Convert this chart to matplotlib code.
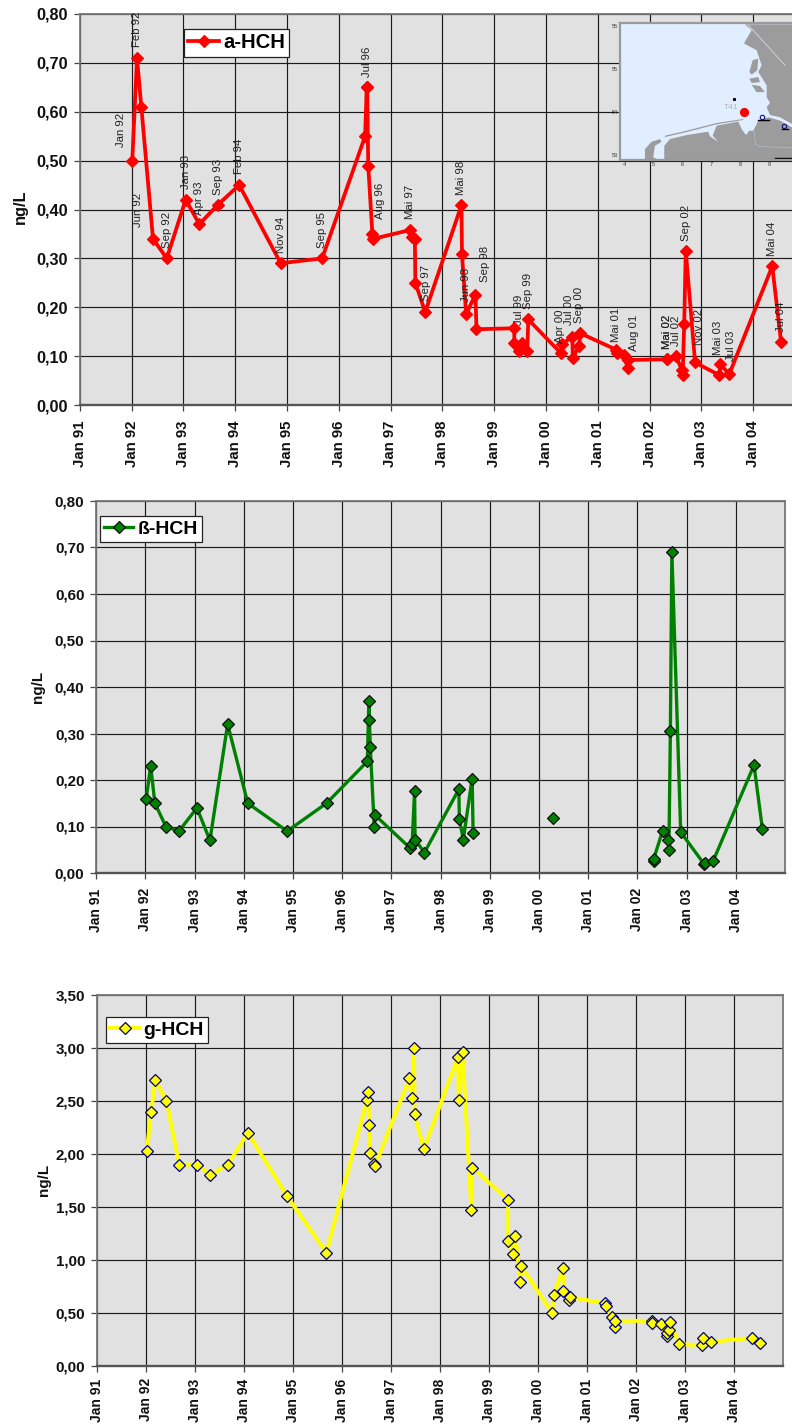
# plot.py
import numpy as np
import matplotlib
matplotlib.use("Agg")
import matplotlib.pyplot as plt
from matplotlib.patches import Polygon

plt.rcParams['font.family'] = ['Liberation Sans', 'DejaVu Sans']

FIG_W, FIG_H = 792, 1425

# sampling dates as decimal years, same for all three series
dates = [1992.015, 1992.106, 1992.19, 1992.415, 1992.68, 1993.046, 1993.31, 1993.67, 1994.08, 1994.88,
         1995.68, 1996.51, 1996.54, 1996.55, 1996.57, 1996.65, 1996.67, 1997.376, 1997.42, 1997.47,
         1997.48, 1997.67, 1998.37, 1998.38, 1998.46, 1998.64, 1998.66, 1999.39, 1999.39, 1999.48,
         1999.54, 1999.64, 1999.66, 2000.29, 2000.32, 2000.51, 2000.52, 2000.64, 2000.66, 2001.36,
         2001.38, 2001.51, 2001.58, 2001.58, 2002.33, 2002.33, 2002.51, 2002.63, 2002.64, 2002.67,
         2002.70, 2002.88, 2003.35, 2003.37, 2003.54, 2004.37, 2004.54]

a_hch = [0.50, 0.71, 0.61, 0.34, 0.30, 0.42, 0.37, 0.41, 0.45, 0.29,
         0.30, 0.55, 0.65, 0.65, 0.49, 0.35, 0.34, 0.358, 0.344, 0.339,
         0.25, 0.19, 0.409, 0.308, 0.186, 0.226, 0.155, 0.157, 0.127, 0.11,
         0.127, 0.111, 0.175, 0.106, 0.125, 0.14, 0.097, 0.12, 0.147, 0.113,
         0.107, 0.102, 0.075, 0.092, 0.0935, 0.0935, 0.10, 0.071, 0.061, 0.166,
         0.316, 0.087, 0.061, 0.083, 0.063, 0.284, 0.129]

b_hch = [0.16, 0.23, 0.15, 0.10, 0.09, 0.14, 0.07, 0.32, 0.15, 0.09,
         0.15, 0.24, 0.37, 0.33, 0.27, 0.10, 0.124, 0.054, 0.062, 0.177,
         0.072, 0.044, 0.18, 0.116, 0.072, 0.203, 0.087, np.nan, np.nan, np.nan,
         np.nan, np.nan, np.nan, 0.119, np.nan, np.nan, np.nan, np.nan, np.nan, np.nan,
         np.nan, np.nan, np.nan, np.nan, 0.025, 0.03, 0.09, 0.07, 0.05, 0.305,
         0.69, 0.088, 0.02, 0.021, 0.026, 0.232, 0.095]

g_hch = [2.03, 2.40, 2.70, 2.50, 1.90, 1.90, 1.80, 1.90, 2.20, 1.60,
         1.07, 2.51, 2.585, 2.273, 2.006, 1.91, 1.885, 2.714, 2.532, 3.00,
         2.373, 2.047, 2.917, 2.51, 2.964, 1.47, 1.87, 1.569, 1.177, 1.056,
         1.229, 0.79, 0.94, 0.50, 0.67, 0.92, 0.71, 0.62, 0.65, 0.59,
         0.57, 0.459, 0.371, 0.427, 0.425, 0.41, 0.393, 0.28, 0.31, 0.34,
         0.412, 0.207, 0.195, 0.264, 0.229, 0.264, 0.22]

year_ticks = list(range(1991, 2005))
year_labels = ["Jan %02d" % (y % 100) for y in year_ticks]

# data labels of the first chart: text and index of the point
label_texts = ["Jan 92", "Feb 92", "Jun 92", "Sep 92", "Jan 93", "Apr 93", "Sep 93", "Feb 94", "Nov 94",
               "Sep 95", "Jul 96", "Aug 96", "Mai 97", "Sep 97", "Mai 98", "Jun 98", "Sep 98", "Jul 99",
               "Sep 99", "Apr 00", "Jul 00", "Sep 00", "Mai 01", "Aug 01", "Mai 02", "Mai 02", "Jul 02",
               "Sep 02", "Nov 02", "Mai 03", "Jul 03", "Mai 04", "Jul 04"]
label_idx = [0, 1, 3, 4, 5, 6, 7, 8, 9, 10, 12, 15, 17, 21, 22, 24, 25, 27,
             32, 33, 35, 38, 39, 43, 44, 45, 46, 50, 51, 53, 54, 55, 56]

# label shift from the point in pixels
label_dx = [-11, 0, -15, 0, 0, 0, 0, 0, 0, 0, 0, 8, 0, 1, 0, 0, 10, 5,
            0, -1, -3, -1, 0, 6, 0, 0, 0, 0, 4, -2, 2, 0, 0]
label_dy = [14, 11, 12, 10, 11, 9, 10, 11, 10, 10, 10, 15, 11, 11, 10, 12, 13, 3,
            10, 10, 12, 10, 8, 9, 10, 10, 10, 10, 17, 9, 13, 10, 10]

# coastline of the small map, crop pixels of the map picture
south_land = [(163, 432), (163, 390), (180, 370), (230, 358), (295, 348), (300, 362), (325, 378), (308, 360),
              (320, 330), (385, 318), (395, 340), (408, 358), (418, 345), (430, 345), (445, 315), (475, 305),
              (510, 315), (546, 335), (546, 432)]
north_land = [(405, 28), (546, 28), (546, 325), (510, 305), (480, 298), (470, 275), (480, 262), (470, 245),
              (470, 210), (445, 170), (455, 150), (440, 105), (402, 85), (425, 45)]
west_island = [(105, 432), (105, 400), (125, 378), (150, 370), (155, 378), (135, 390), (130, 425), (150, 432)]
sand_banks = [[(165, 360), (230, 345), (320, 322), (400, 310), (400, 313), (320, 326), (230, 349), (165, 364)],
              [(428, 135), (445, 130), (442, 165), (425, 178), (418, 170)],
              [(418, 190), (445, 185), (450, 200), (425, 203)],
              [(425, 208), (450, 212), (465, 230), (440, 230)]]
scale_marks = [(445, 476, 313), (516, 534, 341), (495, 542, 425)]


def px_axes(fig, left, top, right, bottom):
    return fig.add_axes([left / FIG_W, 1 - bottom / FIG_H, (right - left) / FIG_W, (bottom - top) / FIG_H])


def map_lonlat(points):
    # crop pixel to degrees
    return [(4 + (x / 3 - 15) / 28.8, 56 - (y / 3 - 11) / 42.8) for x, y in points]


def draw_chart(fig, box, x_end, values, y_max, y_step, name, color, edge, tick_size, legend_box, legend_size,
               ylabel_pos, line_w, marker_s, x_pad):
    ax = px_axes(fig, *box)
    ax.set_facecolor('#E1E1E1')
    ax.set_xlim(1991, x_end)
    ax.set_ylim(0, y_max)
    ax.set_axisbelow(True)
    ax.grid(True, color='#1a1a1a', linewidth=0.85)
    ax.set_xticks(year_ticks)
    ax.set_xticklabels(year_labels, rotation=90, fontsize=tick_size, fontweight='bold')
    yticks = np.arange(0, y_max + y_step / 2, y_step)
    ax.set_yticks(yticks)
    ax.set_yticklabels([("%.2f" % v).replace('.', ',') for v in yticks], fontsize=tick_size + 0.9, fontweight='bold')
    ax.tick_params(axis='both', length=4.5, width=0.9, color='#444444', pad=4, labelcolor='#111111')
    ax.tick_params(axis='x', pad=x_pad)
    for side in ax.spines:
        ax.spines[side].set_color('#777777')
        ax.spines[side].set_linewidth(1.3)
    ax.spines['bottom'].set_color('#555555')
    ax.spines['bottom'].set_linewidth(1.7)

    ax.plot(dates, values, color=color, linewidth=line_w, marker='D', markersize=marker_s,
            markerfacecolor=color, markeredgecolor=edge, markeredgewidth=0.9, label=name, zorder=5)

    leg = ax.legend(loc='upper left', bbox_to_anchor=(legend_box[0] / FIG_W, 1 - legend_box[1] / FIG_H),
                    bbox_transform=fig.transFigure, borderaxespad=0, fancybox=False, framealpha=1,
                    edgecolor='#222222', prop={'size': legend_size, 'weight': 'bold'},
                    handlelength=1.5, handletextpad=0.2, borderpad=0.22, numpoints=1)
    leg.get_frame().set_linewidth(0.9)
    leg.set_zorder(10)

    fig.text(ylabel_pos[0] / FIG_W, 1 - ylabel_pos[1] / FIG_H, "ng/L", rotation=90, ha='center', va='center',
             fontsize=tick_size + 1, fontweight='bold', color='#111111')
    return ax


def draw_map(fig):
    ax = px_axes(fig, 620, 23, 800, 160)
    ax.set_facecolor('#E0EEFF')
    ax.set_xlim(3.83, 4 + (800 - 625) / 28.8)
    ax.set_ylim(52.89, 56.07)
    land = '#9C9C9C'
    for shape in [south_land, north_land, west_island] + sand_banks:
        ax.add_patch(Polygon(map_lonlat(shape), closed=True, facecolor=land, edgecolor='none'))
    river = map_lonlat([(432, 345), (437, 385), (448, 392), (546, 396)])
    ax.plot([p[0] for p in river], [p[1] for p in river], color='#B8C4D4', linewidth=0.4)
    border = map_lonlat([(415, 30), (525, 150)])
    ax.plot([p[0] for p in border], [p[1] for p in border], color='#E0E6EE', linewidth=0.5)

    # station T41 and the two harbours
    t41 = map_lonlat([(403, 288)])[0]
    ax.plot(t41[0], t41[1], 'o', color='#FF0000', markersize=6.6, markeredgecolor='none')
    ax.text(t41[0] - 0.2, t41[1] + 0.1, "T41", color='#B4B4B4', fontsize=6, ha='right', va='center')
    for spot in map_lonlat([(456, 303), (523, 330)]):
        ax.plot(spot[0], spot[1], 'o', markerfacecolor='none', markeredgecolor='#101080', markersize=3.2, markeredgewidth=0.8)
    spot = map_lonlat([(372, 252)])[0]
    ax.plot(spot[0], spot[1], 's', color='black', markersize=1.2)
    for x0, x1, y in scale_marks:
        ends = map_lonlat([(x0, y), (x1, y)])
        ax.plot([ends[0][0], ends[1][0]], [ends[0][1], ends[1][1]], color='black', linewidth=1.0)

    ax.set_xticks([4, 5, 6, 7, 8, 9])
    ax.set_yticks([53, 54, 55, 56])
    ax.tick_params(length=0, labelsize=4, pad=1.5, labelcolor='#333333')
    for side in ax.spines:
        ax.spines[side].set_color('#9A9A9A')
        ax.spines[side].set_linewidth(1.6)
    ax.set_zorder(8)


def main():
    fig = plt.figure(figsize=(FIG_W / 100, FIG_H / 100), dpi=100, facecolor='white')

    ax1 = draw_chart(fig, (79.7, 14, 792, 405), 1991 + (792 - 79.7) / 51.8, a_hch, 0.8, 0.1, "a-HCH",
                     '#FF0000', '#FF0000', 10.8, (184, 29), 14.6, (20, 207), 2.7, 6.2, 6.5)
    ax1.spines['right'].set_visible(False)
    draw_chart(fig, (96.3, 501, 785, 873), 2005, b_hch, 0.8, 0.1, "ß-HCH",
               '#008000', '#101010', 10, (100, 516), 14, (38, 687), 2.4, 5.9, 6.5)
    draw_chart(fig, (97, 995, 783, 1366), 2005, g_hch, 3.5, 0.5, "g-HCH",
               '#FFFF00', '#000080', 10, (106, 1017), 14, (44, 1180), 2.8, 5.9, 4.4)

    for text, idx, dx, dy in zip(label_texts, label_idx, label_dx, label_dy):
        ax1.annotate(text, xy=(dates[idx], a_hch[idx]), xytext=(dx, dy), textcoords='offset pixels',
                     rotation=90, ha='center', va='bottom', fontsize=8.2, color='#222222', zorder=6)

    draw_map(fig)
    fig.savefig('out.png', dpi=100)


if __name__ == "__main__":
    main()
